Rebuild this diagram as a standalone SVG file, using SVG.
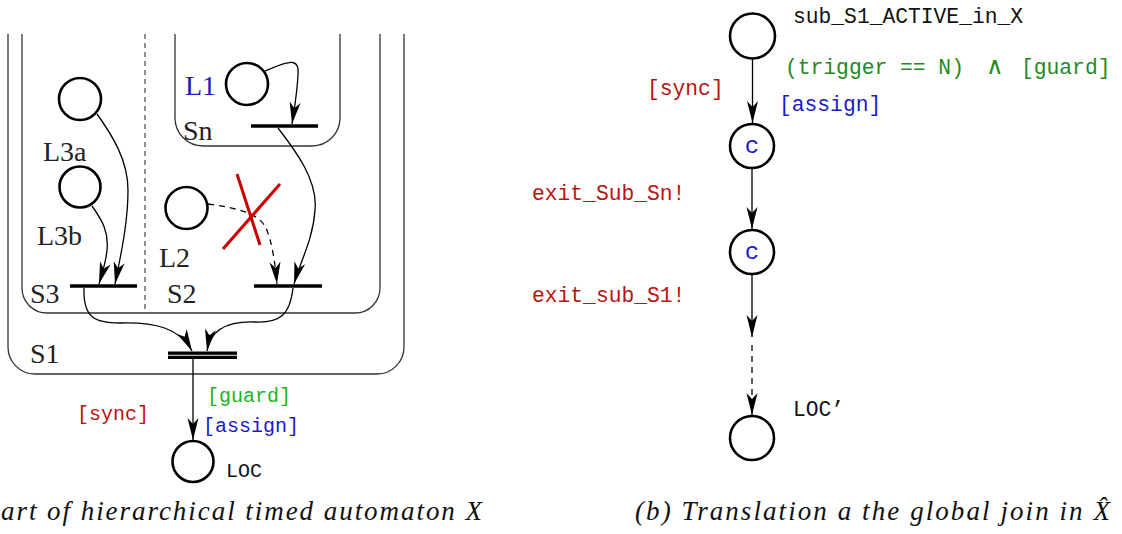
<svg xmlns="http://www.w3.org/2000/svg" width="1122" height="534" viewBox="0 0 1122 534">
  <style>
    .box{fill:none;stroke:#333;stroke-width:1.3}
    .sep{fill:none;stroke:#555;stroke-width:1.3;stroke-dasharray:5 4}
    .loc{fill:#fff;stroke:#000;stroke-width:2.6}
    .bar{stroke:#000;stroke-width:3.5}
    .edge{fill:none;stroke:#000;stroke-width:1.3;marker-end:url(#ah)}
    .dash{stroke-dasharray:6 5}
    .lbl{font-family:"Liberation Serif",serif;font-size:28px;fill:#222}
    .tt{font-family:"Liberation Mono",monospace;font-size:20px}
    .tt2{font-family:"Liberation Mono",monospace;font-size:21.3px}
    .cap{font-family:"Liberation Serif",serif;font-style:italic;font-size:27px;fill:#111}
    .red{fill:#bb1111}
    .blue{fill:#1a1acc}
    .green{fill:#22b422}
    .dgreen{fill:#238a23}
    .blk{fill:#111}
  </style>
  <defs>
    <marker id="ah" markerUnits="userSpaceOnUse" markerWidth="26" markerHeight="14" viewBox="-23 -7 24 14" refX="0" refY="0" orient="auto">
      <path d="M0,0 L-22,-5.5 L-16,0 L-22,5.5 Z" fill="#000" stroke="none"/>
    </marker>
  </defs>

  <!-- (a) hierarchical automaton: superstates -->
  <g id="states">
    <path class="box" d="M8,34 V347 A27,27 0 0 0 35,374 H377 A27,27 0 0 0 404,347 V34"/>
    <path class="box" d="M22,34 V288 A25,25 0 0 0 47,313 H355 A25,25 0 0 0 380,288 V34"/>
    <path class="box" d="M175,34 V118 A28,28 0 0 0 203,146 H312 A28,28 0 0 0 340,118 V34"/>
    <line class="sep" x1="145" y1="34" x2="145" y2="313"/>
    <text class="lbl" x="30" y="363">S1</text>
    <text class="lbl" x="30" y="303">S3</text>
    <text class="lbl" x="167" y="303">S2</text>
    <text class="lbl" x="183" y="140">Sn</text>
  </g>

  <!-- locations -->
  <g id="node-L1">
    <circle class="loc" cx="247" cy="84" r="21"/>
    <text class="lbl" x="185" y="95" style="fill:#1a1acc">L1</text>
  </g>
  <g id="node-L3a">
    <circle class="loc" cx="80" cy="99" r="21"/>
    <text class="lbl" x="43" y="161">L3a</text>
  </g>
  <g id="node-L3b">
    <circle class="loc" cx="80" cy="187" r="20.5"/>
    <text class="lbl" x="37" y="245">L3b</text>
  </g>
  <g id="node-L2">
    <circle class="loc" cx="186.5" cy="208" r="21"/>
    <text class="lbl" x="159" y="267">L2</text>
  </g>
  <g id="node-LOC">
    <circle class="loc" cx="193" cy="461.5" r="20.5"/>
    <text class="tt blk" x="226" y="477">LOC</text>
  </g>

  <!-- join bars -->
  <g id="join-Sn"><line class="bar" x1="251" y1="126" x2="318" y2="126"/></g>
  <g id="join-S3"><line class="bar" x1="70" y1="286" x2="137" y2="286"/></g>
  <g id="join-S2"><line class="bar" x1="254" y1="286" x2="322" y2="286"/></g>
  <g id="join-S1">
    <rect x="168" y="351.5" width="69" height="7.5" fill="#000"/>
    <line x1="168" y1="355.3" x2="237" y2="355.3" stroke="#fff" stroke-width="0.9"/>
  </g>

  <!-- (b) translated automaton: locations -->
  <g id="node-active">
    <circle class="loc" cx="752.5" cy="36" r="22.5"/>
    <text class="tt2 blk" x="793" y="23">sub_S1_ACTIVE_in_X</text>
  </g>
  <g id="node-c1">
    <circle class="loc" cx="752" cy="146" r="22"/>
    <text class="tt2 blue" x="752" y="153" text-anchor="middle" style="font-size:24px">c</text>
  </g>
  <g id="node-c2">
    <circle class="loc" cx="752" cy="252" r="22"/>
    <text class="tt2 blue" x="752" y="259" text-anchor="middle" style="font-size:24px">c</text>
  </g>
  <g id="node-loc2">
    <circle class="loc" cx="752" cy="438" r="22"/>
    <text class="tt2 blk" x="793" y="416">LOC’</text>
  </g>

  <!-- transitions -->
  <g id="connectors">
    <path class="edge" d="M265,71 C285,63 300,55 298,75 C297,95 294,110 292,124"/>
    <path class="edge" d="M278,128 C295,150 318,180 315,210 C313,240 300,262 294,284"/>
    <path class="edge" d="M97,114 C112,135 128,160 128,190 C128,225 120,258 115,284"/>
    <path class="edge" d="M92,206 C102,220 109,232 107,250 C106,262 102,274 99,284"/>
    <path class="edge dash" d="M208,204 C235,208 258,212 266,228 C272,242 275,262 277,284"/>
    <path class="edge" d="M84,288 C83,318 95,323 120,323 C155,322 180,328 192,351"/>
    <path class="edge" d="M293,288 C290,315 280,323 255,322 C225,321 210,332 207,351"/>
    <path class="edge" d="M193,359 V440"/>
    <!-- blocked transition -->
    <line x1="237" y1="174" x2="260" y2="245" stroke="#cc0000" stroke-width="3"/>
    <line x1="280" y1="184" x2="223" y2="249" stroke="#cc0000" stroke-width="3"/>

    <path class="edge" d="M752.5,58.5 V123"/>
    <path class="edge" d="M752,168 V229"/>
    <path class="edge" d="M752,274 V337"/>
    <path class="edge dash" d="M752,345 V415"/>
  </g>

  <!-- transition labels -->
  <g id="labels">
    <text class="tt red" x="77" y="420">[sync]</text>
    <text class="tt green" x="207" y="402">[guard]</text>
    <text class="tt blue" x="203" y="432">[assign]</text>

    <text class="tt2 dgreen" y="74"><tspan x="785">(trigger == N)</tspan><tspan x="986" style="font-family:'DejaVu Sans',sans-serif;font-size:24px">∧</tspan><tspan x="1021">[guard]</tspan></text>
    <text class="tt2 red" x="647" y="95">[sync]</text>
    <text class="tt2 blue" x="779" y="111">[assign]</text>
    <text class="tt2 red" x="532" y="200">exit_Sub_Sn!</text>
    <text class="tt2 red" x="532" y="302">exit_sub_S1!</text>
  </g>

  <!-- captions -->
  <text class="cap" x="1" y="520" textLength="481" lengthAdjust="spacing">art of hierarchical timed automaton X</text>
  <text class="cap" x="635" y="520" textLength="475" lengthAdjust="spacing">(b) Translation a the global join in X̂</text>
</svg>
